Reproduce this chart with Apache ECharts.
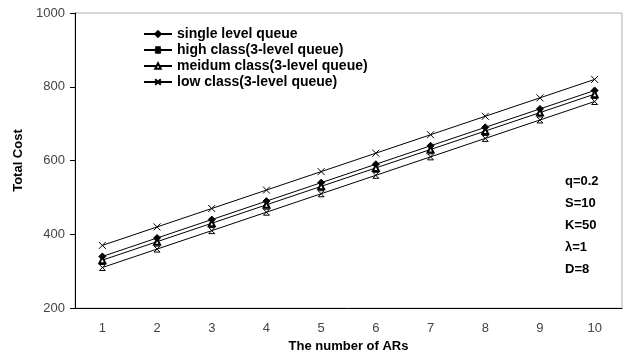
<!DOCTYPE html>
<html>
<head>
<meta charset="utf-8">
<script src="https://cdn.jsdelivr.net/npm/echarts@6/dist/echarts.min.js"></script>
<style>
html, body { margin: 0; padding: 0; background: #fff; }
#charts { width: 627px; height: 358px; }
</style>
</head>
<body>
<div id="charts"></div>
<script>
// data
var arCount = ['1', '2', '3', '4', '5', '6', '7', '8', '9', '10'];
var singleLevel = [340, 390, 440, 490, 540, 590, 640, 690, 740, 790];
var highClass = [310, 360, 410, 460, 510, 560, 610, 660, 710, 760];
var mediumClass = [330, 380, 430, 480, 530, 580, 630, 680, 730, 780];
var lowClass = [370, 420, 470, 520, 570, 620, 670, 720, 770, 820];
var yTicks = [200, 400, 600, 800, 1000];
var params = ['q=0.2', 'S=10', 'K=50', 'λ=1', 'D=8'];

var FONT = '"Liberation Sans", Arial, sans-serif';
var xMark = 'path://M0,0L10,10M10,0L0,10';
var xBarMark = 'path://M0,0L10,0M0,10L10,10M0,0L10,10M10,0L0,10';

var chart = echarts.init(document.getElementById('charts'));

function lineSeries(name, data, symbol, size, fill) {
    return {
        name: name,
        type: 'line',
        data: data,
        symbol: symbol,
        symbolSize: size,
        showAllSymbol: true,
        lineStyle: { color: '#000', width: 1 },
        itemStyle: { color: fill, borderColor: '#000', borderWidth: 1 },
        emphasis: { disabled: true },
        animation: false
    };
}

var labelGraphics = [];
for (var i = 0; i < params.length; i++) {
    labelGraphics.push({
        type: 'text',
        left: 565,
        top: 175 + i * 22,
        style: { text: params[i], font: 'bold 13px ' + FONT, fill: '#000' }
    });
}

var option = {
    animation: false,
    grid: {
        left: 75, right: 5, top: 13, bottom: 47,
        show: true, borderColor: '#b0b0b0', borderWidth: 1
    },
    legend: {
        orient: 'vertical',
        left: 138,
        top: 22,
        itemWidth: 28,
        itemHeight: 7,
        itemGap: 2,
        textStyle: {
            fontFamily: FONT, fontWeight: 'bold', fontSize: 14, lineHeight: 14, color: '#000'
        },
        data: ['single level queue', 'high class(3-level queue)', 'meidum class(3-level queue)', 'low class(3-level queue)']
    },
    xAxis: {
        type: 'category',
        data: arCount,
        boundaryGap: true,
        name: 'The number of ARs',
        nameLocation: 'middle',
        nameGap: 29,
        nameTextStyle: { fontFamily: FONT, fontWeight: 'bold', fontSize: 13, color: '#000' },
        axisLine: { lineStyle: { color: '#000', width: 1 } },
        axisTick: { inside: true, length: 4, lineStyle: { color: '#000' } },
        axisLabel: { fontFamily: FONT, fontSize: 13, color: '#444', margin: 14 }
    },
    yAxis: {
        type: 'value',
        min: yTicks[0],
        max: yTicks[yTicks.length - 1],
        interval: 200,
        name: 'Total Cost',
        nameLocation: 'middle',
        nameGap: 42,
        nameTextStyle: { fontFamily: FONT, fontWeight: 'bold', fontSize: 13, color: '#000' },
        splitLine: { show: false },
        axisLine: { show: true, lineStyle: { color: '#000', width: 1 } },
        axisTick: { show: true, length: 5, lineStyle: { color: '#000' } },
        axisLabel: {
            fontFamily: FONT, fontSize: 13, color: '#444', margin: 10,
            formatter: function (v) { return String(v); }
        }
    },
    graphic: labelGraphics,
    series: [
        lineSeries('single level queue', singleLevel, 'diamond', 7, '#000'),
        lineSeries('high class(3-level queue)', highClass, xBarMark, 6, 'rgba(0,0,0,0)'),
        lineSeries('meidum class(3-level queue)', mediumClass, 'emptyTriangle', 6, '#000'),
        lineSeries('low class(3-level queue)', lowClass, xMark, 7, 'rgba(0,0,0,0)')
    ]
};

chart.setOption(option);
</script>
</body>
</html>
